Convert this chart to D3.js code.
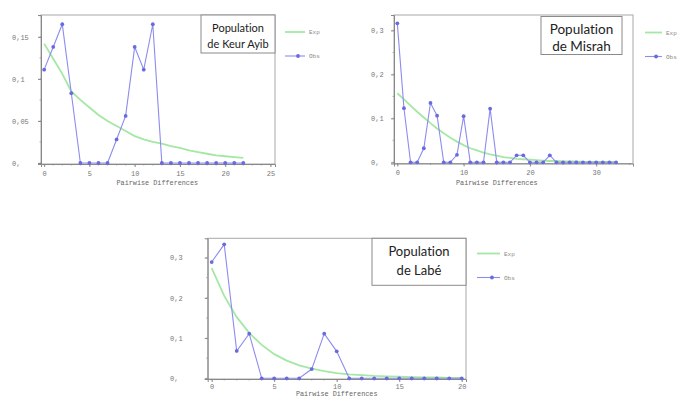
<!DOCTYPE html>
<html>
<head>
<meta charset="utf-8">
<script src="https://cdn.jsdelivr.net/npm/d3@7"></script>
<style>
  body { margin: 0; background: #fff; }
  svg { display: block; }
  text { font-variant-ligatures: none; }
</style>
</head>
<body>
<div id="chart"></div>
<script>
// Keur Ayib
const keurObs = [0.111, 0.138, 0.165, 0.083, 0, 0, 0, 0, 0.028, 0.056, 0.138, 0.111, 0.165, 0, 0, 0, 0, 0, 0, 0, 0, 0, 0];
const keurExp = [0.142, 0.124, 0.106, 0.085, 0.075, 0.066, 0.057, 0.050, 0.044, 0.038, 0.032, 0.028, 0.025, 0.023, 0.020, 0.018, 0.015, 0.013, 0.011, 0.009, 0.008, 0.007, 0.006];
const keurXTicks = [0, 5, 10, 15, 20, 25];
const keurYTicks = [0, 0.05, 0.1, 0.15];
const keurYLabels = ['0,', '0,05', '0,1', '0,15'];

// Misrah
const misrahObs = [0.316, 0.123, 0, 0, 0.032, 0.135, 0.106, 0, 0, 0.017, 0.105, 0, 0, 0, 0.122, 0, 0, 0, 0.016, 0.016, 0, 0, 0, 0.016, 0, 0, 0, 0, 0, 0, 0, 0, 0, 0];
const misrahExp = [0.157, 0.143, 0.129, 0.115, 0.102, 0.089, 0.077, 0.066, 0.056, 0.047, 0.039, 0.032, 0.027, 0.022, 0.018, 0.015, 0.012, 0.010, 0.008, 0.007, 0.006, 0.005, 0.004, 0.003, 0.003, 0.002, 0.002, 0.002, 0.001, 0.001, 0.001, 0.001, 0.001, 0.001];
const misrahXTicks = [0, 10, 20, 30];
const misrahYTicks = [0, 0.1, 0.2, 0.3];
const misrahYLabels = ['0,', '0,1', '0,2', '0,3'];

// Labé
const labeObs = [0.289, 0.333, 0.068, 0.111, 0, 0, 0, 0, 0.023, 0.111, 0.067, 0, 0, 0, 0, 0, 0, 0, 0, 0, 0];
const labeExp = [0.274, 0.205, 0.152, 0.113, 0.083, 0.060, 0.044, 0.032, 0.024, 0.018, 0.013, 0.010, 0.008, 0.006, 0.005, 0.004, 0.003, 0.002, 0.002, 0.001, 0.001];
const labeXTicks = [0, 5, 10, 15, 20];
const labeYTicks = [0, 0.1, 0.2, 0.3];
const labeYLabels = ['0,', '0,1', '0,2', '0,3'];

const xTitle = 'Pairwise Differences';
const legendNames = ['Exp', 'Obs'];

const OBS_COLOR = '#8c8cee';
const DOT_COLOR = '#6a6ae0';
const EXP_COLOR = '#a4e8a4';
const MONO = '"Liberation Mono", "DejaVu Sans Mono", monospace';

const svg = d3.select('#chart')
    .append('svg')
    .attr('width', 682)
    .attr('height', 397);

const panels = [
    {
        obs: keurObs, exp: keurExp,
        xTicks: keurXTicks, xMinor: 1, yTicks: keurYTicks, yLabels: keurYLabels, yMinor: 0.025,
        frame: { left: 41, right: 275, top: 15, bottom: 164 },
        xDomain: [-0.35, 25.5], yDomain: [-0.0012, 0.176],
        yLabelX: 12, titleY: 185, tickPad: 4,
        title: ['Population', 'de Keur Ayib'],
        titleBox: { x: 201, y: 15, w: 74, h: 38, size: 11, lines: [32, 48] },
        legend: { x: 285, y: 32, len: 20 }
    },
    {
        obs: misrahObs, exp: misrahExp,
        xTicks: misrahXTicks, xMinor: 5, yTicks: misrahYTicks, yLabels: misrahYLabels, yMinor: 0.05,
        frame: { left: 394, right: 633, top: 15, bottom: 163.5 },
        xDomain: [-0.5, 35.55], yDomain: [-0.0027, 0.335],
        yLabelX: 371, titleY: 185, tickPad: 4,
        title: ['Population', 'de Misrah'],
        titleBox: { x: 541, y: 16.5, w: 81, h: 38, size: 13.5, lines: [34, 51] },
        legend: { x: 645, y: 32.5, len: 17 }
    },
    {
        obs: labeObs, exp: labeExp,
        xTicks: labeXTicks, xMinor: 1, yTicks: labeYTicks, yLabels: labeYLabels, yMinor: 0.05,
        frame: { left: 207.7, right: 466, top: 238.3, bottom: 379 },
        xDomain: [-0.32, 20.34], yDomain: [-0.0017, 0.348],
        yLabelX: 170, titleY: 396, tickPad: 2,
        title: ['Population', 'de Labé'],
        titleBox: { x: 372, y: 238.3, w: 94, h: 47, size: 13, lines: [256, 275] },
        legend: { x: 477, y: 253.5, len: 23 }
    }
];

function drawPanel(p) {
    const f = p.frame;
    const x = d3.scaleLinear().domain(p.xDomain).range([f.left, f.right]);
    const y = d3.scaleLinear().domain(p.yDomain).range([f.bottom, f.top]);
    const g = svg.append('g');

    // frame
    g.append('rect')
        .attr('x', f.left).attr('y', f.top)
        .attr('width', f.right - f.left).attr('height', f.bottom - f.top)
        .attr('fill', 'none')
        .attr('stroke', '#a8a8a8')
        .attr('stroke-width', 1);

    // minor ticks
    const xMax = Math.floor(p.xDomain[1]);
    const xMinorVals = d3.range(0, xMax + 0.001, p.xMinor);
    g.selectAll('.xminor')
        .data(xMinorVals)
        .enter()
        .append('line')
        .attr('x1', d => x(d)).attr('x2', d => x(d))
        .attr('y1', f.bottom).attr('y2', f.bottom + 1.5)
        .attr('stroke', '#999').attr('stroke-width', 0.8);

    const yMinorVals = d3.range(0, p.yDomain[1], p.yMinor);
    g.selectAll('.yminor')
        .data(yMinorVals)
        .enter()
        .append('line')
        .attr('x1', f.left - 1.5).attr('x2', f.left)
        .attr('y1', d => y(d)).attr('y2', d => y(d))
        .attr('stroke', '#999').attr('stroke-width', 0.8);

    // axes
    const xAxis = g.append('g')
        .attr('transform', `translate(0, ${f.bottom})`)
        .call(d3.axisBottom(x).tickValues(p.xTicks).tickSize(3).tickPadding(p.tickPad).tickFormat(d3.format('d')));
    const yAxis = g.append('g')
        .attr('transform', `translate(${f.left}, 0)`)
        .call(d3.axisLeft(y).tickValues(p.yTicks).tickSize(3).tickFormat((d, i) => p.yLabels[i]));

    [xAxis, yAxis].forEach(ax => {
        ax.select('.domain').attr('stroke', '#888');
        ax.selectAll('.tick line').attr('stroke', '#888');
        ax.selectAll('text')
            .attr('fill', '#777')
            .style('font-family', MONO)
            .style('font-size', '7px');
    });
    yAxis.selectAll('text')
        .attr('text-anchor', 'start')
        .attr('x', p.yLabelX - f.left);

    // x title
    g.append('text')
        .attr('x', (x(p.xTicks[0]) + x(p.xTicks[p.xTicks.length - 1])) / 2)
        .attr('y', p.titleY)
        .attr('text-anchor', 'middle')
        .attr('fill', '#666')
        .style('font-family', MONO)
        .style('font-size', '6.8px')
        .text(xTitle);

    // expected curve
    const line = d3.line()
        .x((d, i) => x(i))
        .y(d => y(d));

    g.append('path')
        .attr('d', line(p.exp))
        .attr('fill', 'none')
        .attr('stroke', EXP_COLOR)
        .attr('stroke-width', 1.8);

    // observed
    g.append('path')
        .attr('d', line(p.obs))
        .attr('fill', 'none')
        .attr('stroke', OBS_COLOR)
        .attr('stroke-width', 1.1);

    g.selectAll('.dot')
        .data(p.obs)
        .enter()
        .append('circle')
        .attr('cx', (d, i) => x(i))
        .attr('cy', d => y(d))
        .attr('r', 1.9)
        .attr('fill', DOT_COLOR);

    // title box
    const tb = p.titleBox;
    g.append('rect')
        .attr('x', tb.x).attr('y', tb.y)
        .attr('width', tb.w).attr('height', tb.h)
        .attr('fill', '#fff')
        .attr('stroke', '#8a8a8a')
        .attr('stroke-width', 1);
    p.title.forEach((t, i) => {
        g.append('text')
            .attr('x', tb.x + tb.w / 2)
            .attr('y', tb.lines[i])
            .attr('text-anchor', 'middle')
            .attr('fill', '#222')
            .style('font-family', 'Lato, "Open Sans", sans-serif')
            .style('font-size', tb.size + 'px')
            .text(t);
    });

    // legend
    const lg = p.legend;
    const colors = [EXP_COLOR, OBS_COLOR];
    legendNames.forEach((name, i) => {
        const ly = lg.y + i * 24;
        g.append('line')
            .attr('x1', lg.x).attr('x2', lg.x + lg.len)
            .attr('y1', ly).attr('y2', ly)
            .attr('stroke', colors[i])
            .attr('stroke-width', i === 0 ? 1.8 : 1.1);
        if (i === 1) {
            g.append('circle')
                .attr('cx', lg.x + lg.len * 0.65)
                .attr('cy', ly)
                .attr('r', 1.9)
                .attr('fill', DOT_COLOR);
        }
        g.append('text')
            .attr('x', lg.x + lg.len + 4)
            .attr('y', ly + 2)
            .attr('fill', '#888')
            .style('font-family', MONO)
            .style('font-size', '6px')
            .text(name);
    });
}

panels.forEach(drawPanel);
</script>
</body>
</html>
